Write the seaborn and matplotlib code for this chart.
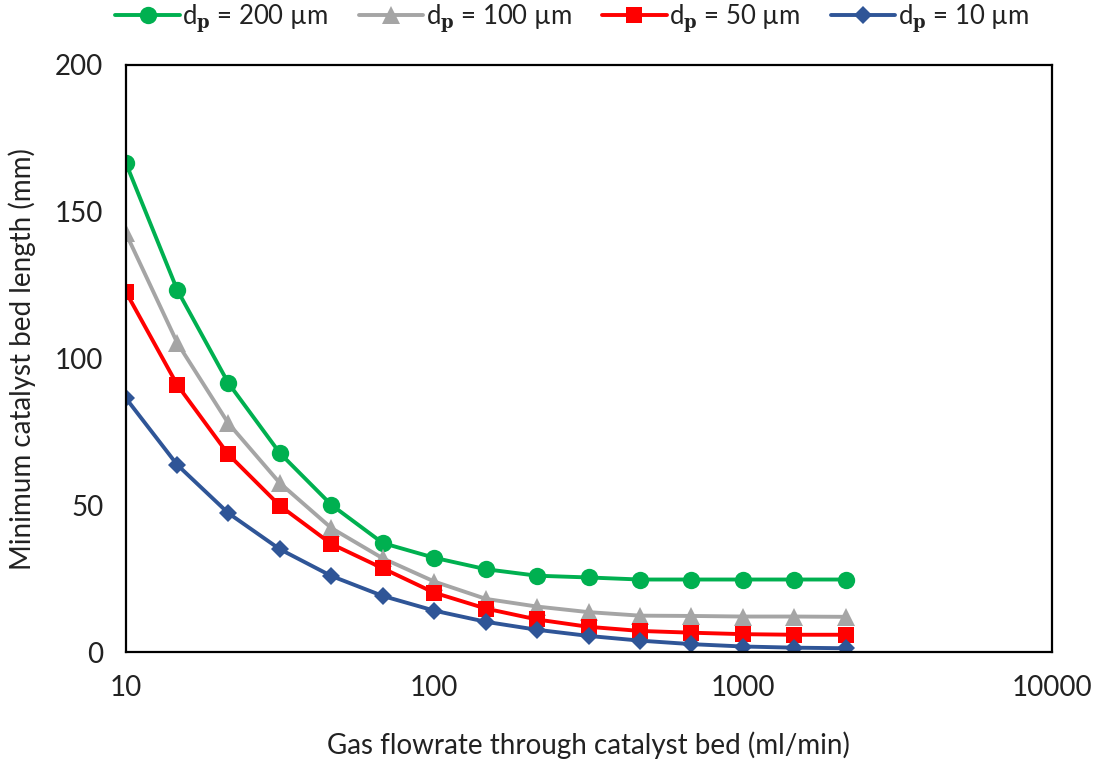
import pandas as pd
import numpy as np
import seaborn as sns
import matplotlib.pyplot as plt
from matplotlib.ticker import FixedLocator, NullLocator

# gas flowrate (ml/min), log spaced
flowrate = [10, 14.7, 21.5, 31.6, 46.4, 68.1, 100, 147, 215, 316, 464, 681, 1000, 1468, 2154]

# minimum bed length (mm) per particle size
len_200 = [166.7, 123.3, 91.7, 67.8, 50.2, 37.2, 32.2, 28.3, 26.1, 25.5, 24.8, 24.8, 24.8, 24.8, 24.8]
len_100 = [142.8, 105.3, 78.0, 57.6, 42.3, 32.0, 24.1, 18.2, 15.6, 13.7, 12.5, 12.4, 12.2, 12.2, 12.1]
len_50 = [122.8, 91.0, 67.4, 49.9, 36.9, 28.6, 20.3, 14.9, 11.2, 8.7, 7.3, 6.7, 6.2, 6.0, 6.0]
len_10 = [86.6, 63.8, 47.4, 35.1, 26.0, 19.2, 14.2, 10.4, 7.7, 5.6, 4.0, 2.8, 2.0, 1.6, 1.4]

labels = [r'd$_{\mathbf{p}}$ = 200 µm', r'd$_{\mathbf{p}}$ = 100 µm',
          r'd$_{\mathbf{p}}$ = 50 µm', r'd$_{\mathbf{p}}$ = 10 µm']
x_ticks = [10, 100, 1000, 10000]
y_ticks = [0, 50, 100, 150, 200]

colors = ['#00B050', '#A5A5A5', '#FF0000', '#2F5597']
markers = ['o', '^', 's', 'D']
msizes = [12.5, 12.5, 12, 9]

rows = []
for lab, vals in zip(labels, [len_200, len_100, len_50, len_10]):
    for xv, yv in zip(flowrate, vals):
        rows.append({'flow': xv, 'length': yv, 'size': lab})
df = pd.DataFrame(rows)

sns.set_style('white')
plt.rcParams['font.family'] = ['Lato', 'DejaVu Sans']
plt.rcParams['mathtext.fontset'] = 'dejavuserif'
plt.rcParams['text.color'] = 'black'

fig = plt.figure(figsize=(10.94, 7.64), dpi=100)
ax = fig.add_axes([0.1149, 0.1461, 0.9612 - 0.1149, 0.9152 - 0.1461])

for lab, c, m, ms in zip(labels, colors, markers, msizes):
    sub = df[df['size'] == lab]
    sns.lineplot(data=sub, x='flow', y='length', ax=ax, color=c, marker=m,
                 markersize=ms, markeredgewidth=0, linewidth=2.8, label=lab)

ax.set_xscale('log')
ax.set_xlim(10, 10000)
ax.set_ylim(0, 200)
ax.xaxis.set_major_locator(FixedLocator(x_ticks))
ax.xaxis.set_minor_locator(NullLocator())
ax.set_xticks(x_ticks)
ax.set_xticklabels([str(t) for t in x_ticks])
ax.set_yticks(y_ticks)
ax.set_yticklabels([str(t) for t in y_ticks])

for sp in ax.spines.values():
    sp.set_color('black')
    sp.set_linewidth(1.6)

ax.tick_params(axis='both', direction='in', length=7, width=1.6, labelsize=20,
               colors='black', labelcolor='#222222', top=False, right=False)
ax.tick_params(axis='x', pad=16)
ax.tick_params(axis='y', pad=16)

ax.set_xlabel('Gas flowrate through catalyst bed (ml/min)', fontsize=20,
              labelpad=22, color='#222222')
ax.set_ylabel('Minimum catalyst bed length (mm)', fontsize=20, labelpad=14,
              color='#222222')

leg = ax.legend(loc='lower center', bbox_to_anchor=(0.482, 1.025), ncol=4, frameon=False,
                fontsize=18.5, handlelength=2.5, columnspacing=1.2, handletextpad=0.1,
                borderaxespad=0.2)
for t in leg.get_texts():
    t.set_color('#222222')

fig.savefig('out.png', dpi=100)
